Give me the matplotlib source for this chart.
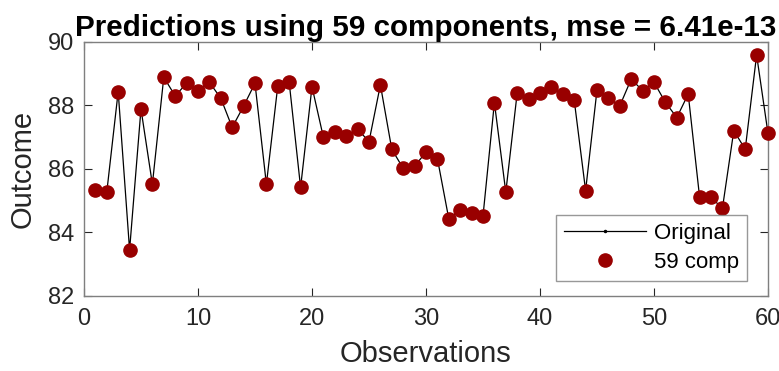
import numpy as np
import matplotlib
matplotlib.use("Agg")
import matplotlib.pyplot as plt

# outcome values per observation
obs = list(range(1, 61))
outcome = [85.33, 85.27, 88.44, 83.45, 87.89, 85.52, 88.89, 88.30, 88.70, 88.45,
           88.73, 88.23, 87.31, 87.98, 88.70, 85.52, 88.62, 88.73, 85.42, 88.59,
           87.00, 87.16, 87.04, 87.26, 86.86, 88.65, 86.62, 86.02, 86.09, 86.53,
           86.33, 84.43, 84.71, 84.62, 84.52, 88.09, 85.27, 88.40, 88.19, 88.40,
           88.57, 88.35, 88.17, 85.32, 88.49, 88.25, 87.99, 88.83, 88.47, 88.73,
           88.10, 87.62, 88.36, 85.11, 85.11, 84.76, 87.21, 86.62, 89.59, 87.12]
n_comp = 59
mse = 6.41e-13

x_ticks = [0, 10, 20, 30, 40, 50, 60]
y_ticks = [82, 84, 86, 88, 90]

plt.rcParams['font.family'] = ['Liberation Sans', 'DejaVu Sans']
axis_col = '#262626'
red = '#990000'

fig = plt.figure(figsize=(7.79, 3.71), dpi=100)
ax = fig.add_axes([0.1078, 0.2022, 0.8781, 0.6846])

ax.plot(obs, outcome, '-', color='black', lw=0.9, marker='.', ms=3, label='Original')
ax.plot(obs, outcome, 'o', color=red, ms=9.5, label=f'{n_comp} comp', clip_on=False, zorder=3)

ax.set_xlim(0, 60)
ax.set_ylim(82, 90)
ax.set_xticks(x_ticks)
ax.set_yticks(y_ticks)
ax.tick_params(direction='in', length=6, width=0.8, color=axis_col,
               top=True, right=True, labelsize=17, labelcolor=axis_col)
ax.tick_params(axis='x', pad=9)
ax.tick_params(axis='y', pad=7)
for s in ax.spines.values():
    s.set_color('#7f7f7f')
    s.set_linewidth(1.0)

ax.set_xlabel('Observations', fontsize=21, color=axis_col, labelpad=7)
ax.set_ylabel('Outcome', fontsize=21, color=axis_col, labelpad=8)
ax.set_title(f'Predictions using {n_comp} components, mse = {mse:.2e}',
             fontsize=21.3, fontweight='bold', pad=4)

leg = ax.legend(loc='lower right', bbox_to_anchor=(0.969, 0.059), fontsize=16,
                frameon=True, fancybox=False, edgecolor='#7f7f7f',
                handlelength=3.7, borderaxespad=0, labelspacing=0.38,
                handletextpad=0.35, borderpad=0.35)
leg.get_frame().set_linewidth(1.0)

fig.savefig('out.png', dpi=100)
